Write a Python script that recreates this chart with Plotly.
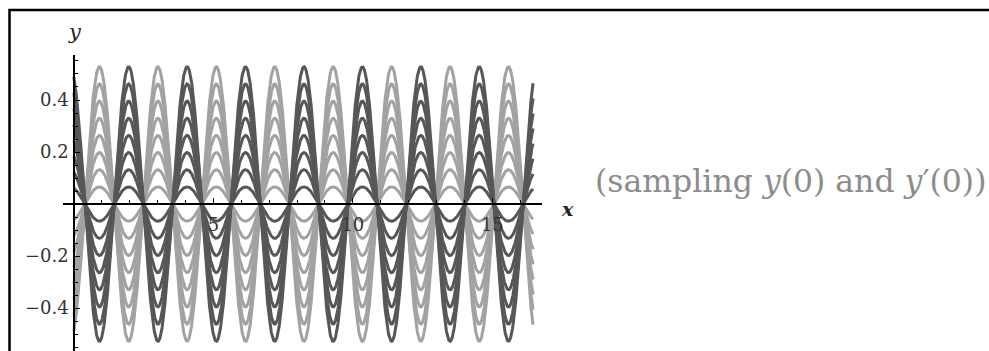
import numpy as np
import plotly.graph_objects as go

# family of solutions of y'' + 9 y = 0, sampled over initial conditions
omega = 3.0
x_start, x_end = 0.0, 16.46

# dark family (positive start) and light family (negative start)
y0_dark = [0.061, 0.122, 0.183, 0.244, 0.305, 0.366, 0.427, 0.488]
yp0_dark = [-0.075, -0.150, -0.226, -0.301, -0.376, -0.451, -0.527, -0.602]
y0_light = [-0.061, -0.122, -0.183, -0.244, -0.305, -0.366, -0.427, -0.488]
yp0_light = [0.075, 0.150, 0.226, 0.301, 0.376, 0.451, 0.527, 0.602]

x_ticks = [5, 10, 15]
y_ticks = [-0.4, -0.2, 0.2, 0.4]
y_ticktext = ["\u22120.4", "\u22120.2", "0.2", "0.4"]

W, H = 989, 351
L, R, T, B = 63, 447, 55, 0
pw, ph = W - L - R, H - T - B


def fx(px):
    return (px - L) / pw


def fy(py):
    return (H - B - py) / ph


xs = np.linspace(x_start, x_end, 1500)

fig = go.Figure()
for y0s, yp0s, col in [(y0_light, yp0_light, "#a2a2a2"), (y0_dark, yp0_dark, "#575757")]:
    for y0, yp0 in zip(y0s, yp0s):
        ys = y0 * np.cos(omega * xs) + yp0 / omega * np.sin(omega * xs)
        fig.add_trace(go.Scatter(x=xs, y=ys, mode="lines",
                                 line=dict(color=col, width=3),
                                 showlegend=False, hoverinfo="skip"))

serif = "DejaVu Serif"
fig.update_layout(
    width=W, height=H,
    margin=dict(l=L, r=R, t=T, b=B),
    plot_bgcolor="white", paper_bgcolor="white",
    xaxis=dict(range=[-0.39, 16.78], anchor="free", position=fy(204),
               showline=True, linecolor="black", linewidth=1.6,
               showgrid=False, zeroline=False,
               tickvals=x_ticks, ticks="inside", ticklen=5, tickwidth=1.2,
               tickcolor="black", ticklabelstandoff=5,
               minor=dict(dtick=1, tick0=0, ticks="inside", ticklen=3,
                          tickcolor="black", showgrid=False),
               tickfont=dict(family=serif, size=18, color="#333333")),
    yaxis=dict(range=[-0.565, 0.573], anchor="free", position=fx(74),
               showline=True, linecolor="black", linewidth=1.6,
               showgrid=False, zeroline=False,
               tickvals=y_ticks, ticktext=y_ticktext,
               ticks="inside", ticklen=5, tickwidth=1.2, tickcolor="black",
               ticklabelstandoff=1,
               minor=dict(dtick=0.05, tick0=0, ticks="inside", ticklen=3,
                          tickcolor="black", showgrid=False),
               tickfont=dict(family=serif, size=18, color="#333333")),
)

# outer frame
fig.add_shape(type="rect", xref="paper", yref="paper",
              x0=fx(9.5), x1=fx(1005), y0=fy(420), y1=fy(10),
              line=dict(color="black", width=2.5), layer="above")

fig.add_annotation(x=fx(66), y=fy(18), xref="paper", yref="paper",
                   text="<i>y</i>", showarrow=False,
                   font=dict(family=serif, size=21, color="#222222"))
fig.add_annotation(x=fx(576), y=fy(209), xref="paper", yref="paper",
                   text="<b><i>x</i></b>", showarrow=False,
                   font=dict(family=serif, size=19, color="#222222"))
fig.add_annotation(x=fx(593), y=fy(181), xref="paper", yref="paper",
                   xanchor="left",
                   text="(sampling <i>y</i>(0) and <i>y</i>\u2032(0))",
                   showarrow=False,
                   font=dict(family=serif, size=31.5, color="#8c8c8c"))

fig.write_html("out.html", config={"displayModeBar": False},
               post_script="document.body.style.margin='0';")
